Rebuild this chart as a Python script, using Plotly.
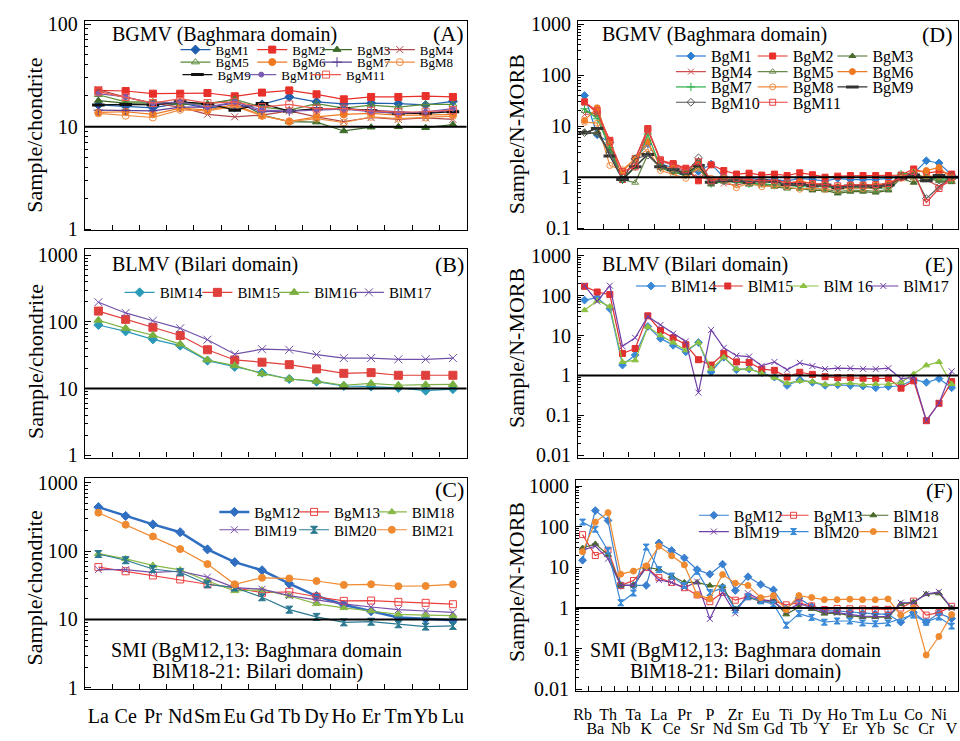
import plotly.graph_objects as go

W, H = 960, 741
FONT = "Liberation Serif, Times New Roman, serif"

# ---------------- categories ----------------
REE = ["La", "Ce", "Pr", "Nd", "Sm", "Eu", "Gd", "Tb", "Dy", "Ho", "Er", "Tm", "Yb", "Lu"]
SPIDER = ["Rb", "Ba", "Th", "Nb", "Ta", "K", "La", "Ce", "Pr", "Sr", "P", "Nd", "Zr", "Sm", "Eu",
          "Gd", "Ti", "Tb", "Dy", "Y", "Ho", "Er", "Tm", "Yb", "Lu", "Sc", "Co", "Cr", "Ni", "V"]

# ---------------- panel A (REE, BGMV) ----------------
A_BgM1 = [16.3, 15.8, 15.3, 17.0, 15.3, 15.5, 16.5, 19.5, 17.5, 16.7, 17.0, 16.8, 16.3, 17.7]
A_BgM2 = [22.6, 22.3, 21.0, 21.0, 21.3, 19.8, 21.5, 22.6, 20.7, 18.5, 19.5, 19.5, 19.9, 19.5]
A_BgM3 = [18.0, 17.0, 17.0, 16.5, 16.8, 18.5, 13.0, 11.2, 11.1, 9.1, 9.9, 10.0, 9.8, 10.5]
A_BgM4 = [22.9, 19.5, 17.0, 15.5, 13.2, 12.5, 13.0, 14.3, 12.5, 11.2, 12.3, 11.8, 12.2, 11.8]
A_BgM5 = [20.5, 17.5, 17.5, 17.0, 16.5, 18.5, 15.5, 14.5, 16.8, 15.2, 16.2, 15.5, 16.5, 16.5]
A_BgM6 = [13.8, 14.0, 13.2, 15.2, 14.5, 16.5, 12.8, 11.3, 12.5, 13.2, 13.5, 13.0, 13.0, 13.2]
A_BgM7 = [14.5, 14.5, 14.3, 15.5, 15.5, 17.0, 14.0, 14.2, 14.8, 15.0, 14.5, 13.8, 13.5, 14.5]
A_BgM8 = [13.5, 12.8, 12.3, 14.6, 14.3, 15.8, 12.8, 11.2, 12.0, 11.0, 12.5, 12.0, 12.3, 12.7]
A_BgM9 = [16.3, 16.5, 16.3, 17.5, 16.8, 14.5, 16.8, 14.2, 15.0, 15.0, 14.3, 13.5, 13.5, 14.0]
A_BgM10 = [21.0, 19.5, 16.8, 17.5, 15.5, 17.5, 14.5, 14.2, 14.5, 14.8, 14.0, 13.5, 14.0, 15.0]
A_BgM11 = [22.0, 19.5, 17.0, 18.8, 17.0, 17.5, 15.5, 16.5, 15.0, 15.0, 14.3, 13.9, 14.0, 14.5]

# ---------------- panel B (REE, BLMV) ----------------
B_BlM14 = [89.6, 72.0, 54.7, 44.0, 26.2, 21.1, 17.3, 13.9, 12.7, 10.9, 10.7, 10.2, 9.3, 9.8]
B_BlM15 = [145, 109, 83, 62.4, 38.1, 26.8, 24.8, 22.8, 19.7, 16.9, 17.3, 15.8, 15.8, 15.8]
B_BlM16 = [105.6, 80, 63, 46.4, 26.8, 22.0, 16.7, 13.9, 12.9, 11.2, 11.9, 11.2, 11.4, 11.5]
B_BlM17 = [197, 136, 104, 80, 54, 32.7, 38.9, 38.1, 32.3, 28.6, 28.6, 27.4, 27.4, 28.6]

# ---------------- panel C (REE, SMI) ----------------
C_BgM12 = [440, 327, 246, 189, 106, 69, 52.4, 33.4, 22.0, 16.4, 13.2, 10.7, 10.2, 9.7]
C_BgM13 = [58.4, 50.7, 44.0, 38.5, 32.7, 29.3, 24.6, 25.4, 21.5, 18.7, 18.9, 18.1, 17.5, 16.7]
C_BlM18 = [91.6, 76.9, 61.7, 53.0, 36.5, 26.2, 27.0, 22.0, 16.9, 14.8, 13.3, 11.9, 11.6, 11.4]
C_BlM19 = [53.5, 53.5, 49.0, 50.7, 41.6, 29.3, 27.7, 22.3, 19.3, 16.9, 15.2, 13.9, 13.3, 12.7]
C_BlM20 = [90.6, 73.6, 54.7, 49.0, 32.7, 29.3, 21.1, 13.9, 10.9, 9.06, 9.26, 8.49, 7.86, 8.04]
C_BlM21 = [365, 243, 164, 107, 64.5, 32.7, 40.7, 39.8, 36.5, 32.0, 32.7, 30.6, 30.9, 32.7]

# ---------------- panel D (spider, BGMV) ----------------
D_BgM1 = [40, 6.8, 4.8, 0.9, 2.3, 4.5, 1.8, 1.55, 1.25, 1.3, 1.8, 1.0, 0.95, 0.95, 0.9,
          0.9, 0.85, 0.95, 0.9, 0.85, 0.95, 0.9, 0.9, 0.9, 0.95, 1.05, 1.2, 2.1, 1.9, 1.1]
D_BgM2 = [30, 18, 5.3, 0.9, 2.3, 9.0, 2.1, 1.85, 1.5, 0.85, 1.75, 1.35, 1.15, 1.2, 1.1,
          1.15, 1.08, 1.22, 1.12, 1.0, 1.05, 1.08, 1.08, 1.08, 1.08, 1.1, 1.45, 1.2, 1.3, 1.15]
D_BgM3 = [7.5, 7.3, 3.3, 0.9, 1.6, 2.8, 1.5, 1.25, 1.1, 1.6, 0.72, 0.85, 0.85, 0.72, 0.7,
          0.65, 0.6, 0.6, 0.55, 0.55, 0.48, 0.52, 0.52, 0.5, 0.55, 0.95, 0.78, 0.95, 0.85, 0.8]
D_BgM4 = [17, 18, 4.3, 0.9, 2.2, 8.5, 2.1, 1.7, 1.3, 1.0, 0.9, 0.75, 0.7, 0.8, 0.7,
          0.72, 0.7, 0.75, 0.7, 0.7, 0.65, 0.68, 0.67, 0.66, 0.7, 0.95, 1.3, 0.9, 0.65, 0.85]
D_BgM5 = [20, 17, 3.5, 0.9, 0.78, 2.8, 1.55, 1.3, 1.1, 1.5, 0.75, 0.82, 0.85, 0.72, 0.72,
          0.68, 0.62, 0.6, 0.6, 0.58, 0.52, 0.55, 0.55, 0.53, 0.58, 1.0, 0.95, 1.0, 0.9, 0.85]
D_BgM6 = [13, 23, 4.5, 1.3, 2.3, 5.0, 1.6, 1.5, 1.2, 1.9, 0.85, 0.95, 0.9, 0.85, 0.8,
          0.8, 0.75, 0.85, 0.75, 0.72, 0.65, 0.7, 0.7, 0.7, 0.75, 1.05, 1.25, 1.35, 1.55, 0.95]
D_BgM7 = [22, 14, 3.8, 0.9, 1.6, 7.0, 1.55, 1.3, 1.1, 1.8, 0.75, 0.85, 0.8, 0.75, 0.75,
          0.7, 0.7, 0.65, 0.65, 0.65, 0.6, 0.62, 0.62, 0.6, 0.62, 1.15, 1.2, 0.95, 0.95, 0.9]
D_BgM8 = [12, 11.5, 1.7, 1.4, 2.3, 3.6, 1.35, 1.15, 0.95, 1.5, 0.95, 0.9, 0.62, 0.78, 0.65,
          0.68, 0.65, 0.58, 0.62, 0.58, 0.58, 0.6, 0.6, 0.62, 0.65, 0.95, 1.0, 1.05, 1.05, 1.0]
D_BgM9 = [7.5, 9.0, 2.6, 0.9, 1.6, 2.8, 1.6, 1.4, 1.2, 1.7, 0.8, 0.85, 0.85, 0.8, 0.85,
          0.82, 0.72, 0.72, 0.68, 0.7, 0.62, 0.67, 0.67, 0.65, 0.7, 0.95, 1.1, 0.85, 1.08, 1.0]
D_BgM10 = [7.5, 7.3, 3.0, 0.9, 2.3, 2.7, 1.6, 1.35, 1.15, 2.4, 0.8, 0.88, 0.88, 0.82, 0.82,
           0.8, 0.72, 0.7, 0.7, 0.68, 0.62, 0.65, 0.65, 0.65, 0.68, 1.0, 1.15, 0.38, 0.65, 1.05]
D_BgM11 = [30, 20, 5.0, 1.3, 1.6, 8.5, 2.2, 1.8, 1.4, 2.0, 0.85, 1.0, 0.95, 0.9, 0.85,
           0.88, 0.78, 0.8, 0.75, 0.72, 0.68, 0.7, 0.7, 0.72, 0.75, 1.0, 1.3, 0.32, 0.6, 1.0]

# ---------------- panel E (spider, BLMV) ----------------
E_BlM14 = [77.6, 89.7, 47.5, 1.82, 3.25, 16.9, 8.5, 5.7, 3.9, 6.7, 1.22, 2.86, 1.39, 1.46, 1.16,
           0.91, 0.56, 0.78, 0.67, 0.56, 0.58, 0.56, 0.54, 0.49, 0.53, 0.55, 0.78, 0.67, 0.83, 0.49]
E_BlM15 = [172, 124, 107, 3.56, 4.75, 31.3, 13.4, 8.8, 5.9, 2.48, 1.82, 3.56, 2.18, 2.1, 1.44,
           1.34, 0.91, 1.2, 1.06, 0.93, 0.88, 0.88, 0.85, 0.83, 0.85, 0.48, 0.73, 0.073, 0.2, 0.7]
E_BlM16 = [43.4, 74.8, 54, 2.18, 2.39, 16.6, 10.2, 6.7, 4.27, 6.7, 1.46, 2.86, 1.46, 1.46, 1.12,
           0.88, 0.64, 0.73, 0.70, 0.59, 0.61, 0.64, 0.59, 0.61, 0.61, 0.67, 1.09, 1.79, 2.18, 0.61]
E_BlM17 = [179, 72, 179, 5.4, 8.8, 30.2, 18.5, 11.2, 7.1, 0.37, 13.9, 4.93, 3.13, 2.97, 1.75,
           2.18, 1.39, 2.07, 1.72, 1.44, 1.52, 1.52, 1.46, 1.44, 1.52, 0.83, 0.88, 0.073, 0.2, 1.27]

# ---------------- panel F (spider, SMI) ----------------
F_BgM12 = [15, 250, 142, 3.6, 3.6, 3.6, 40, 26, 17, 8.8, 6.8, 12, 2.7, 5.9, 3.8,
           2.8, 0.95, 1.75, 1.1, 0.85, 0.85, 0.8, 0.75, 0.72, 0.7, 0.45, 0.78, 0.45, 0.75, 0.55]
F_BgM13 = [64, 19.6, 26.5, 3.6, 4.75, 10, 5.6, 4.27, 3.16, 2.1, 1.43, 2.42, 1.56, 1.9, 1.6,
           1.5, 1.2, 1.35, 1.13, 0.92, 0.98, 0.96, 0.95, 0.93, 0.93, 1.0, 1.48, 0.67, 0.77, 1.1]
F_BlM18 = [30, 37.8, 20.3, 3.6, 3.6, 10, 9.0, 6.1, 4.27, 4.27, 3.58, 3.45, 0.95, 1.85, 1.45,
           1.5, 0.7, 1.05, 0.95, 0.73, 0.75, 0.65, 0.6, 0.6, 0.6, 1.25, 1.4, 2.2, 2.3, 1.0]
F_BlM19 = [26.5, 33.3, 16.4, 3.6, 3.6, 10, 4.9, 4.27, 3.16, 4.5, 0.54, 2.42, 0.74, 2.3, 1.6,
           1.45, 0.85, 1.3, 1.02, 0.8, 0.77, 0.7, 0.63, 0.62, 0.62, 1.35, 1.35, 2.2, 2.5, 1.0]
F_BlM20 = [130, 87, 25.6, 1.35, 2.34, 31.6, 8.8, 6.1, 3.6, 8.0, 2.4, 3.1, 0.9, 1.9, 1.5,
           1.25, 0.38, 0.73, 0.59, 0.45, 0.48, 0.48, 0.43, 0.41, 0.43, 0.55, 0.67, 0.45, 0.6, 0.36]
F_BlM21 = [24.3, 130, 222, 6.8, 8.1, 10.9, 33.3, 19.3, 11.5, 2.1, 1.7, 6.65, 4.1, 3.6, 1.8,
           2.03, 0.91, 2.03, 1.82, 1.61, 1.61, 1.65, 1.61, 1.6, 1.67, 0.67, 1.0, 0.07, 0.2, 0.69]

# ---------------- helpers ----------------
fig = go.Figure()
legends = {}


def fx(px):
    return px / W


def fy(py):
    return 1 - py / H


def add(ax, name, cats, vals, color, symbol, lpos, size=7, lw=1.2, mlw=1.0):
    """lpos = (text_x_px, row_y_px, font_size) for this trace's own legend"""
    k = len(legends) + 1
    lid = "legend" if k == 1 else "legend%d" % k
    tx, ty, fs = lpos
    legends[lid] = dict(x=fx(tx - 40), y=fy(ty), xanchor="left", yanchor="middle",
                        orientation="h", bgcolor="rgba(0,0,0,0)", borderwidth=0,
                        itemwidth=30, font=dict(family=FONT, size=fs, color="black"),
                        tracegroupgap=0)
    fig.add_trace(go.Scatter(
        x=cats, y=vals, name=name, mode="lines+markers",
        xaxis="x" + ax, yaxis="y" + ax, legend=lid,
        line=dict(color=color, width=lw),
        marker=dict(symbol=symbol, size=size, color=color, line=dict(color=color, width=mlw)),
    ))


# Panel A  (legend: 3 rows)
ax_, ay_ = [213, 290, 355, 418], [42.7, 55.5, 68.3]
panelA = [
    ("BgM1", A_BgM1, "#1f5fae", "diamond", (ax_[0], ay_[0])),
    ("BgM2", A_BgM2, "#e8302a", "square", (ax_[1], ay_[0])),
    ("BgM3", A_BgM3, "#3d6b2a", "triangle-up", (ax_[2], ay_[0])),
    ("BgM4", A_BgM4, "#b0464a", "x-thin", (ax_[3], ay_[0])),
    ("BgM5", A_BgM5, "#5b8c3a", "triangle-up-open", (ax_[0], ay_[1])),
    ("BgM6", A_BgM6, "#f07820", "circle", (ax_[1], ay_[1])),
    ("BgM7", A_BgM7, "#5b3c94", "cross-thin", (ax_[2], ay_[1])),
    ("BgM8", A_BgM8, "#f08c40", "circle-open", (ax_[3], ay_[1])),
    ("BgM9", A_BgM9, "#111111", "line-ew", (215, ay_[2])),
    ("BgM10", A_BgM10, "#7a5cb0", "circle", (279, ay_[2])),
    ("BgM11", A_BgM11, "#ee5a50", "square-open", (344, ay_[2])),
]
for n, v, c, s, p in panelA:
    lp = (p[0], p[1], 13)
    if s == "line-ew":
        add("", n, REE, v, c, s, lp, size=9, mlw=3)
    elif n == "BgM10":
        add("", n, REE, v, c, s, lp, size=5)
    else:
        add("", n, REE, v, c, s, lp)

# Panel D (legend: 4 rows x 3 cols)
dx_, dy_ = [710, 792, 872], [49.3, 65.3, 81, 96.7]
panelD = [
    ("BgM1", D_BgM1, "#2d7fd0", "diamond"),
    ("BgM2", D_BgM2, "#e8302a", "square"),
    ("BgM3", D_BgM3, "#4a6b2c", "triangle-up"),
    ("BgM4", D_BgM4, "#d05050", "x-thin"),
    ("BgM5", D_BgM5, "#6a8a4a", "triangle-up-open"),
    ("BgM6", D_BgM6, "#f07820", "circle"),
    ("BgM7", D_BgM7, "#2eb04a", "cross-thin"),
    ("BgM8", D_BgM8, "#f08c40", "circle-open"),
    ("BgM9", D_BgM9, "#333333", "line-ew"),
    ("BgM10", D_BgM10, "#555555", "diamond-open"),
    ("BgM11", D_BgM11, "#e84040", "square-open"),
]
for i, (n, v, c, s) in enumerate(panelD):
    lp = (dx_[i % 3], dy_[i // 3], 16)
    if s == "line-ew":
        add("2", n, SPIDER, v, c, s, lp, size=9, mlw=3)
    else:
        add("2", n, SPIDER, v, c, s, lp, size=6)

# Panel B
bx_ = [157, 235, 312, 387]
panelB = [
    ("BlM14", B_BlM14, "#2a9ab8", "diamond"),
    ("BlM15", B_BlM15, "#e0403c", "square"),
    ("BlM16", B_BlM16, "#7ab040", "triangle-up"),
    ("BlM17", B_BlM17, "#7050a8", "x-thin"),
]
for i, (n, v, c, s) in enumerate(panelB):
    add("3", n, REE, v, c, s, (bx_[i], 291.7, 15), size=8 if s != "diamond" else 7)

# Panel E
ex_ = [670, 747, 823, 903]
panelE = [
    ("BlM14", E_BlM14, "#3a8ad8", "diamond"),
    ("BlM15", E_BlM15, "#e03030", "square"),
    ("BlM 16", E_BlM16, "#8cc040", "triangle-up"),
    ("BlM17", E_BlM17, "#7040a8", "x-thin"),
]
for i, (n, v, c, s) in enumerate(panelE):
    add("4", n, SPIDER, v, c, s, (ex_[i], 285, 16), size=6)

# Panel C
cx_, cy_ = [252, 332, 410], [516.7, 535]
panelC = [
    ("BgM12", C_BgM12, "#2f6ec0", "diamond", 2.5),
    ("BgM13", C_BgM13, "#ee4040", "square-open", 1.2),
    ("BlM18", C_BlM18, "#88b848", "triangle-up", 1.2),
    ("BlM19", C_BlM19, "#7850a8", "x-thin", 1.2),
    ("BlM20", C_BlM20, "#2a7890", "hourglass", 1.2),
    ("BlM21", C_BlM21, "#f08a30", "circle", 1.2),
]
for i, (n, v, c, s, lw) in enumerate(panelC):
    add("5", n, REE, v, c, s, (cx_[i % 3], cy_[i // 3], 15), size=7, lw=lw)

# Panel F
fx_, fy_ = [733, 813, 893], [520, 536.7]
panelF = [
    ("BgM12", F_BgM12, "#3a7fd0", "diamond"),
    ("BgM13", F_BgM13, "#e84040", "square-open"),
    ("BlM18", F_BlM18, "#4a6a2a", "triangle-up"),
    ("BlM19", F_BlM19, "#7040a8", "x-thin"),
    ("BlM20", F_BlM20, "#3a8ad8", "hourglass"),
    ("BlM21", F_BlM21, "#f08a30", "circle"),
]
for i, (n, v, c, s) in enumerate(panelF):
    add("6", n, SPIDER, v, c, s, (fx_[i % 3], fy_[i // 3], 16), size=6)

# ---------------- axes ----------------
TICKFONT = dict(family=FONT, size=20, color="black")


def xax(px0, px1, cats, anchor, labels=False):
    return dict(domain=[fx(px0), fx(px1)], anchor=anchor, type="category",
                categoryorder="array", categoryarray=cats,
                range=[-0.5, len(cats) - 0.5], tickson="boundaries",
                ticks="inside", ticklen=5, tickcolor="black", tickwidth=1,
                showline=True, linecolor="black", linewidth=1.2, mirror=True,
                showgrid=False, zeroline=False, showticklabels=labels,
                tickfont=TICKFONT, tickangle=0)


def yax(py0, py1, rng, anchor, decades):
    minor = [m * d for d in decades[:-1] for m in range(2, 10)]
    return dict(domain=[fy(py1), fy(py0)], anchor=anchor, type="log", range=rng,
                tickmode="array", tickvals=decades, ticktext=[("%g" % d) for d in decades],
                ticks="inside", ticklen=6, tickcolor="black",
                minor=dict(ticks="inside", ticklen=3, tickcolor="black", tickmode="array",
                           tickvals=minor, showgrid=False),
                showline=True, linecolor="black", linewidth=1.2, mirror=True,
                showgrid=False, zeroline=False, tickfont=TICKFONT, ticklabelstandoff=2)


D3 = [1, 10, 100, 1000]
D5 = [0.01, 0.1, 1, 10, 100, 1000]

layout = dict(
    width=W, height=H, margin=dict(l=0, r=0, t=0, b=0),
    paper_bgcolor="white", plot_bgcolor="white", showlegend=True,
    font=dict(family=FONT, color="black"),
    xaxis=xax(82, 465, REE, "y"),
    yaxis=yax(13.3, 228, [-0.01, 2.03], "x", [1, 10, 100]),
    xaxis2=xax(577, 958, SPIDER, "y2"),
    yaxis2=yax(13.3, 226.7, [-1.02, 3.065], "x2", [0.1, 1, 10, 100, 1000]),
    xaxis3=xax(82, 465, REE, "y3"),
    yaxis3=yax(246.7, 460.7, [-0.035, 3.097], "x3", D3),
    xaxis4=xax(577, 958, SPIDER, "y4"),
    yaxis4=yax(246.7, 460.7, [-2.06, 3.18], "x4", D5),
    xaxis5=xax(82, 465, REE, "y5", labels=True),
    yaxis5=yax(481.7, 698.3, [-0.023, 3.07], "x5", D3),
    xaxis6=xax(575, 958, SPIDER, "y6", labels=True),
    yaxis6=yax(483.3, 700, [-2.04, 3.16], "x6", D5),
)
layout["xaxis5"]["ticklabelstandoff"] = 9
# F: two label rows
x6 = layout["xaxis6"]
x6.update(tickmode="array", tickvals=SPIDER,
          ticktext=[e if i % 2 == 0 else "" for i, e in enumerate(SPIDER)],
          tickfont=dict(family=FONT, size=16, color="black"), ticklabelstandoff=9)
layout["xaxis7"] = dict(overlaying="x6", anchor="y6", side="bottom", type="linear",
                        range=[-0.5, len(SPIDER) - 0.5], tickmode="array",
                        tickvals=[i for i in range(len(SPIDER)) if i % 2 == 1],
                        ticktext=[e for i, e in enumerate(SPIDER) if i % 2 == 1],
                        showline=False, ticks="", showgrid=False, zeroline=False,
                        tickfont=dict(family=FONT, size=16, color="black"),
                        ticklabelstandoff=26, tickangle=0)

fig.update_layout(**layout)
fig.add_trace(go.Scatter(x=[None], y=[None], xaxis="x7", yaxis="y6", showlegend=False,
                         hoverinfo="skip", mode="markers"))
fig.update_layout(**legends)

# ---------------- reference lines ----------------
for ax, val in [("", 10), ("2", 1), ("3", 10), ("4", 1), ("5", 10), ("6", 1)]:
    fig.add_shape(type="line", xref="x%s domain" % ax, yref="y%s" % ax,
                  x0=0, x1=1, y0=val, y1=val, line=dict(color="black", width=2))

# ---------------- annotations ----------------
ann = []


def txt(text, x, y, size=20, xanchor="left", angle=0):
    ann.append(dict(text=text, x=fx(x), y=fy(y), xref="paper", yref="paper",
                    xanchor=xanchor, yanchor="middle", showarrow=False, textangle=angle,
                    font=dict(family=FONT, size=size, color="black")))


txt("BGMV (Baghmara domain)", 107, 27)
txt("(A)", 464, 26, xanchor="right", size=22)
txt("BGMV (Baghmara domain)", 599, 27)
txt("(D)", 955, 27, xanchor="right", size=22)
txt("BLMV (Bilari domain)", 107, 263)
txt("(B)", 464, 263, xanchor="right", size=22)
txt("BLMV (Bilari domain)", 599, 263)
txt("(E)", 955, 263, xanchor="right", size=22)
txt("(C)", 464, 493, xanchor="right", size=22)
txt("(F)", 955, 495, xanchor="right", size=22)
txt("SMI (BgM12,13: Baghmara domain", 254, 659, size=20, xanchor="center")
txt("BlM18-21: Bilari domain)", 255, 680, size=20, xanchor="center")
txt("SMI (BgM12,13: Baghmara domain", 735, 659, size=20, xanchor="center")
txt("BlM18-21: Bilari domain)", 735, 680, size=20, xanchor="center")
txt("Sample/chondrite", 32, 130, size=22, xanchor="center", angle=-90)
txt("Sample/chondrite", 32, 362, size=22, xanchor="center", angle=-90)
txt("Sample/chondrite", 32, 594, size=22, xanchor="center", angle=-90)
txt("Sample/N-MORB", 515, 129, size=22, xanchor="center", angle=-90)
txt("Sample/N-MORB", 515, 348, size=22, xanchor="center", angle=-90)
txt("Sample/N-MORB", 515, 588, size=22, xanchor="center", angle=-90)
fig.update_layout(annotations=ann)

fig.write_html("out.html")
